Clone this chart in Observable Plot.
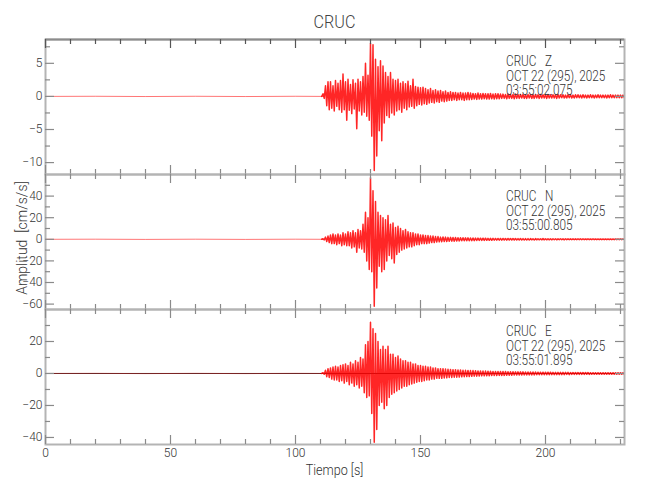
<!DOCTYPE html>
<html>
<head>
<meta charset="utf-8">
<script src="https://cdn.jsdelivr.net/npm/d3@7"></script>
<script src="https://cdn.jsdelivr.net/npm/@observablehq/plot@0.6"></script>
<style>
  body { margin: 0; background: #fff; }
  #wrap { position: relative; width: 650px; height: 500px; background: #fff; overflow: hidden; color: #333; }
  .abs { position: absolute; white-space: pre; line-height: 1; font-weight: 300; }
  .panel { position: absolute; left: 0; }
  .info { position: absolute; left: 506px; font-size: 14px; line-height: 14.5px; white-space: pre; color: #333;
          font-weight: 300; transform: scaleX(0.84); transform-origin: 0 0; }
</style>
</head>
<body>
<div id="wrap"></div>
<script>
// ---------------- DATA ----------------
const station = "CRUC";
const components = ["Z", "N", "E"];
const dateLabel = "OCT 22 (295), 2025";
const startTimes = ["03:55:02.075", "03:55:00.805", "03:55:01.895"];
const xLabel = "Tiempo [s]";
const yLabel = "Amplitud  [cm/s/s]";

const xDomain = [0, 231.6];
const xMajor = [0, 50, 100, 150, 200];
const xMinor = [10, 20, 30, 40, 60, 70, 80, 90, 110, 120, 130, 140, 160, 170, 180, 190, 210, 220, 230];

// pre-event (quiet) samples: time [s], amplitude
const preTimes = [0, 20, 40, 60, 80, 100, 111];
const preZ = [0, 0.02, -0.02, 0.02, -0.02, 0.02, 0];
const preN = [0, 0.1, -0.1, 0.1, -0.1, 0.1, 0];
const preE = [0, 0.1, -0.1, 0.1, -0.1, 0.1, 0];

// envelope peaks per second, starting at t = 111 s (121 values, t = 111..231)
const envStart = 111;

const zHi = [0.4,1.6,2.2,2.2,1.6,2.4,2.0,2.4,3.4,2.2, 2.6,1.8,2.5,2.0,2.6,2.2,3.0,5.0,3.2,8.0,
             7.8,5.6,4.5,5.4,4.6,3.6,3.0,3.6,2.6,2.4, 2.6,2.0,2.2,1.9,2.3,1.6,2.6,1.5,1.4,1.3,
             1.4,1.2,1.0,1.2,0.9,1.0,0.8,0.9,0.7,0.8, 0.6,0.7,0.6,0.6,0.5,0.6,0.5,0.5,0.6,0.5,
             0.45,0.4,0.5,0.4,0.45,0.4,0.4,0.45,0.35,0.4, 0.4,0.35,
             0.35,0.3,0.35,0.3,0.3,0.35,0.3,0.3,0.3,0.25, 0.3,0.3,0.25,0.3,0.25,0.3,0.25,0.25,0.3,0.25,
             0.25,0.25,0.3,0.25,0.25,0.2,0.25,0.25,0.2,0.25, 0.25,0.2,0.25,0.2,0.2,0.25,0.2,0.2,0.25,0.2,
             0.2,0.2,0.2,0.25,0.2,0.2,0.2,0.2,0.2];
const zLo = [-0.3,-1.4,-2.0,-1.8,-2.2,-1.5,-2.0,-2.4,-2.0,-3.6, -2.1,-2.6,-1.9,-4.9,-2.2,-2.8,-2.4,-3.0,-3.6,-6.0,
             -11.2,-9.0,-5.2,-6.7,-4.0,-2.9,-3.2,-2.5,-2.8,-2.2, -2.0,-2.4,-1.8,-2.0,-1.6,-1.5,-1.8,-1.4,-1.2,-1.3,
             -1.1,-1.2,-1.0,-0.9,-1.0,-0.8,-0.9,-0.7,-0.8,-0.7, -0.6,-0.6,-0.5,-0.6,-0.5,-0.5,-0.6,-0.5,-0.5,-0.45,
             -0.4,-0.45,-0.4,-0.4,-0.35,-0.4,-0.4,-0.35,-0.4,-0.35, -0.35,-0.3,
             -0.3,-0.35,-0.3,-0.3,-0.35,-0.3,-0.3,-0.25,-0.3,-0.3, -0.25,-0.3,-0.3,-0.25,-0.3,-0.25,-0.25,-0.3,-0.25,-0.25,
             -0.25,-0.3,-0.25,-0.2,-0.25,-0.25,-0.2,-0.25,-0.25,-0.2, -0.2,-0.25,-0.2,-0.25,-0.2,-0.2,-0.25,-0.2,-0.2,-0.2,
             -0.2,-0.25,-0.2,-0.2,-0.2,-0.2,-0.2,-0.2,-0.2];

const nHi = [0.5,2,3,4,5,4,5,4,6,5, 7,6,8,6,9,8,14,25,20,57,
             45,35,25,22,20,18,22,14,15,11, 12,10,8,9,7,6,6,5,5,4,
             4,3.5,3.5,3,3,2.5,2.5,2,2.2,2, 1.8,1.8,1.6,1.6,1.5,1.5,1.4,1.3,1.3,1.2,
             1.2,1.1,1.1,1.0,1.0,1.0,0.9,0.9,0.9,0.8, 0.8,0.8,
             0.8,0.7,0.8,0.7,0.7,0.7,0.6,0.7,0.6,0.6, 0.6,0.6,0.5,0.6,0.5,0.5,0.6,0.5,0.5,0.5,
             0.5,0.5,0.4,0.5,0.4,0.5,0.4,0.4,0.4,0.4, 0.4,0.4,0.4,0.3,0.4,0.3,0.4,0.3,0.3,0.3,
             0.3,0.3,0.3,0.3,0.3,0.3,0.3,0.3,0.3];
const nLo = [-0.5,-2,-3,-4,-4,-5,-4,-6,-5,-6, -6,-8,-7,-12,-8,-9,-12,-20,-28,-30,
             -62,-45,-25,-30,-28,-20,-15,-18,-22,-14, -12,-10,-9,-8,-7,-7,-6,-5,-5,-4,
             -4,-4,-3.5,-3,-3,-2.6,-2.4,-2.2,-2,-2, -1.8,-1.7,-1.7,-1.6,-1.5,-1.4,-1.4,-1.3,-1.3,-1.2,
             -1.2,-1.1,-1.0,-1.0,-1.0,-0.9,-0.9,-0.9,-0.8,-0.8, -0.8,-0.8,
             -0.7,-0.8,-0.7,-0.7,-0.7,-0.6,-0.7,-0.6,-0.6,-0.6, -0.6,-0.5,-0.6,-0.5,-0.5,-0.5,-0.5,-0.5,-0.5,-0.5,
             -0.4,-0.5,-0.4,-0.4,-0.5,-0.4,-0.4,-0.4,-0.4,-0.4, -0.3,-0.4,-0.3,-0.4,-0.3,-0.3,-0.3,-0.3,-0.3,-0.3,
             -0.3,-0.3,-0.3,-0.3,-0.3,-0.3,-0.3,-0.3,-0.3];

const eHi = [0.5,2,3,3.5,4,4.5,4,5,5.5,6, 5,7,6,8,7,10,9,18,20,32,
             28,25,20,15,17,15,17,12,12,10, 11,9,8,8,7,7,6,6,5,5,
             4.5,4.5,4,4,3.5,3.5,3,3,3,2.8, 2.6,2.5,2.4,2.4,2.2,2.2,2.0,2.0,1.9,1.8,
             1.8,1.7,1.6,1.6,1.5,1.5,1.4,1.4,1.3,1.3, 1.3,1.2,
             1.2,1.2,1.1,1.1,1.1,1.0,1.0,1.0,1.0,0.9, 0.9,0.9,0.9,0.9,0.8,0.8,0.8,0.8,0.8,0.8,
             0.7,0.7,0.7,0.7,0.7,0.7,0.7,0.6,0.6,0.6, 0.6,0.6,0.6,0.6,0.6,0.5,0.5,0.5,0.5,0.5,
             0.5,0.5,0.5,0.5,0.5,0.5,0.5,0.5,0.5];
const eLo = [-0.5,-2,-2.5,-3.5,-4,-4,-5,-4.5,-6,-5, -7,-6,-8,-7,-9,-8,-12,-15,-14,-25,
             -43,-35,-20,-18,-22,-20,-15,-13,-12,-11, -10,-9,-8,-8,-7,-6.5,-6,-5.5,-5,-5,
             -4.5,-4,-4,-3.5,-3.5,-3,-3,-3,-2.8,-2.7, -2.5,-2.5,-2.3,-2.3,-2.2,-2.1,-2.0,-1.9,-1.9,-1.8,
             -1.7,-1.7,-1.6,-1.5,-1.5,-1.4,-1.4,-1.3,-1.3,-1.3, -1.2,-1.2,
             -1.2,-1.1,-1.1,-1.1,-1.0,-1.0,-1.0,-1.0,-0.9,-0.9, -0.9,-0.9,-0.9,-0.8,-0.8,-0.8,-0.8,-0.8,-0.8,-0.7,
             -0.7,-0.7,-0.7,-0.7,-0.7,-0.6,-0.7,-0.6,-0.6,-0.6, -0.6,-0.6,-0.6,-0.5,-0.6,-0.5,-0.5,-0.5,-0.5,-0.5,
             -0.5,-0.5,-0.5,-0.5,-0.5,-0.5,-0.5,-0.5,-0.5];

// per-panel y axes
const yDomains = [[-11.8, 8.6], [-65, 60], [-44.4, 40]];
const yMajors = [[5, 0, -5, -10], [40, 20, 0, -20, -40, -60], [20, 0, -20, -40]];
const yMinors = [[7.5, 2.5, -2.5, -7.5], [50, 30, 10, -10, -30, -50], [30, 10, -10, -30]];

// ---------------- BUILD ----------------
function buildPre(pre) {
  return preTimes.map((t, i) => ({t, v: pre[i]}));
}
function buildSignal(hi, lo) {
  const pts = [{t: envStart - 0.5, v: 0}];
  hi.forEach((h, i) => {
    const t = envStart + i;
    pts.push({t, v: h});
    pts.push({t: t + 0.5, v: lo[i]});
  });
  return pts;
}
const pres = [buildPre(preZ), buildPre(preN), buildPre(preE)];
const signals = [buildSignal(zHi, zLo), buildSignal(nHi, nLo), buildSignal(eHi, eLo)];

const wrap = document.getElementById("wrap");
const FONT = 'Roboto, "DejaVu Sans Condensed", sans-serif';
const panelTops = [39, 174, 309];
const panelH = 135;
const mL = 45, mR = 26, pad = 6;
const plotW = 650 - mL - mR;
const frameColor = "#b4b4b4";
const tickColor = "#8a8a8a";

components.forEach((comp, k) => {
  const isBottom = k === 2;
  const mB = isBottom ? 60 : pad;
  const marks = [];
  if (isBottom) marks.push(Plot.ruleY([0], {stroke: "#333", strokeWidth: 1}));
  marks.push(Plot.line(pres[k], {x: "t", y: "v", stroke: "#ff0000", strokeWidth: 0.9, strokeOpacity: isBottom ? 0.4 : 0.6, clip: true}));
  marks.push(Plot.line(signals[k], {x: "t", y: "v", stroke: "#ff0000", strokeWidth: 1.5, strokeOpacity: 0.85, clip: true}));
  marks.push(Plot.frame({stroke: frameColor, strokeWidth: 2}));
  if (k === 0) marks.push(Plot.ruleY([yDomains[0][1]], {stroke: "#8c8c8c", strokeWidth: 2}));
  // inward y ticks on left and right
  marks.push(Plot.tickY(yMajors[k], {y: d => d, stroke: tickColor, strokeWidth: 1.2, insetRight: plotW - 9}));
  marks.push(Plot.tickY(yMajors[k], {y: d => d, stroke: tickColor, strokeWidth: 1.2, insetLeft: plotW - 9}));
  marks.push(Plot.tickY(yMinors[k], {y: d => d, stroke: tickColor, strokeWidth: 1.2, insetRight: plotW - 5}));
  marks.push(Plot.tickY(yMinors[k], {y: d => d, stroke: tickColor, strokeWidth: 1.2, insetLeft: plotW - 5}));
  // inward x ticks on top and bottom
  marks.push(Plot.tickX(xMajor, {x: d => d, stroke: k === 0 ? "#555" : tickColor, strokeWidth: 1.2, insetBottom: panelH - 9}));
  marks.push(Plot.tickX(xMajor, {x: d => d, stroke: tickColor, strokeWidth: 1.2, insetTop: panelH - 9}));
  marks.push(Plot.tickX(xMinor, {x: d => d, stroke: k === 0 ? "#555" : tickColor, strokeWidth: 1.2, insetBottom: panelH - 5}));
  marks.push(Plot.tickX(xMinor, {x: d => d, stroke: tickColor, strokeWidth: 1.2, insetTop: panelH - 5}));
  marks.push(Plot.axisY(yMajors[k], {tickSize: 0, tickPadding: 3, label: null, fontSize: 12, fill: "#333"}));
  if (isBottom) marks.push(Plot.axisX(xMajor, {tickSize: 0, tickPadding: 4, label: null, fontSize: 12, fill: "#333"}));

  const chart = Plot.plot({
    width: 650,
    height: panelH + pad + mB,
    marginLeft: mL, marginRight: mR, marginTop: pad, marginBottom: mB,
    x: {domain: xDomain, axis: isBottom ? undefined : null},
    y: {domain: yDomains[k]},
    style: {fontFamily: FONT, fontSize: "12px", fontWeight: 300, background: "transparent", color: "#333", overflow: "visible"},
    marks
  });
  const holder = document.createElement("div");
  holder.className = "panel";
  holder.style.top = (panelTops[k] - pad) + "px";
  holder.appendChild(chart);
  wrap.appendChild(holder);

  const info = document.createElement("div");
  info.className = "info";
  info.style.top = (panelTops[k] + 15) + "px";
  info.style.fontFamily = FONT;
  info.textContent = station + "   " + comp + "\n" + dateLabel + "\n" + startTimes[k];
  wrap.appendChild(info);
});

// title
const title = document.createElement("div");
title.className = "abs";
title.style.cssText += "left:0;width:669px;text-align:center;top:12px;font-size:19px;color:#444;transform:scaleX(0.85);";
title.style.fontFamily = FONT;
title.textContent = station;
wrap.appendChild(title);

// x label
const xl = document.createElement("div");
xl.className = "abs";
xl.style.cssText += "left:0;width:669px;text-align:center;top:463px;font-size:14px;color:#333;transform:scaleX(0.9);";
xl.style.fontFamily = FONT;
xl.textContent = xLabel;
wrap.appendChild(xl);

// y label (rotated)
const yl = document.createElement("div");
yl.className = "abs";
yl.style.cssText += "left:22px;top:238px;font-size:14px;color:#333;transform:translate(-50%,-50%) rotate(-90deg);";
yl.style.fontFamily = FONT;
yl.textContent = yLabel;
wrap.appendChild(yl);
</script>
</body>
</html>
